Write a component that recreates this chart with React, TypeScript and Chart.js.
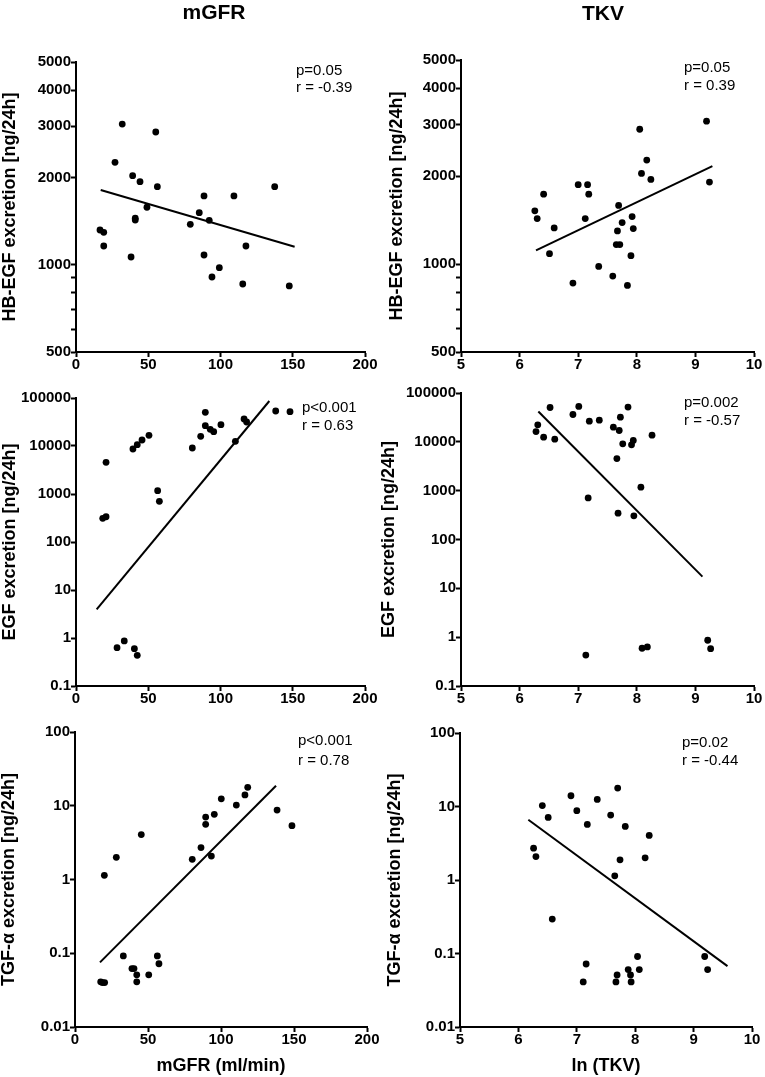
import React, { useEffect, useRef } from "react";
import { Chart, registerables } from "chart.js";

Chart.register(...registerables);

const FONT = '"Liberation Sans", Arial, Helvetica, sans-serif';

// ---------- Tick values ----------
const hbegfTicks = [500, 600, 700, 800, 900, 1000, 2000, 3000, 4000, 5000];
const hbegfLabels = [500, 1000, 2000, 3000, 4000, 5000];
const egfTicks = [0.1, 1, 10, 100, 1000, 10000, 100000];
const tgfTicks = [0.01, 0.1, 1, 10, 100];
const mgfrTicks = [0, 50, 100, 150, 200];
const tkvTicks = [5, 6, 7, 8, 9, 10];

// ---------- Panel 1: HB-EGF vs mGFR ----------
const hbegfMgfrX = [16.6, 19.2, 19.2, 32.0, 27.0, 39.2, 44.3, 55.2, 56.3, 49.1, 41.0, 41.0, 38.1, 79.1, 85.3, 88.6, 92.2, 88.6, 99.2, 94.1, 109.3, 117.6, 115.4, 137.5, 147.6];
const hbegfMgfrY = [1317, 1293, 1160, 3055, 2255, 2028, 1933, 2868, 1858, 1578, 1446, 1426, 1063, 1378, 1512, 1726, 1422, 1080, 977, 907, 1726, 1160, 858, 1858, 845];
const hbegfMgfrLineX = [17.1, 151.3];
const hbegfMgfrLineY = [1810, 1153];

// ---------- Panel 2: HB-EGF vs ln(TKV) ----------
const hbegfTkvX = [6.26, 6.30, 6.41, 6.59, 6.51, 6.91, 7.00, 7.16, 7.18, 7.12, 7.35, 7.59, 7.84, 7.69, 7.75, 7.67, 7.65, 7.71, 7.90, 7.92, 7.94, 8.05, 8.08, 8.17, 8.24, 9.19, 9.24];
const hbegfTkvY = [1522, 1432, 1736, 1330, 1086, 861, 1870, 1870, 1736, 1432, 982, 910, 845, 1588, 1387, 1299, 1166, 1166, 1069, 1455, 1323, 2896, 2045, 2272, 1950, 3087, 1909];
const hbegfTkvLineX = [6.28, 9.29];
const hbegfTkvLineY = [1115, 2167];

// ---------- Panel 3: EGF vs mGFR ----------
const egfMgfrX = [18.5, 20.8, 20.8, 28.4, 33.4, 40.4, 42.4, 39.4, 42.4, 45.7, 50.5, 56.5, 57.7, 80.5, 86.3, 89.5, 89.5, 92.9, 95.3, 100.3, 110.3, 116.3, 118.1, 138.2, 148.1];
const egfMgfrY = [312, 336, 4570, 0.63, 0.87, 0.60, 0.435, 8660, 10640, 13340, 16680, 1172, 703, 9090, 15920, 50200, 26550, 22230, 19900, 27800, 12500, 36500, 31620, 53600, 51900];
const egfMgfrLineX = [14.3, 133.8];
const egfMgfrLineY = [3.95, 86600];

// ---------- Panel 4: EGF vs ln(TKV) ----------
const egfTkvX = [6.28, 6.31, 6.41, 6.52, 6.60, 6.91, 7.01, 7.19, 7.36, 7.17, 7.13, 7.60, 7.70, 7.72, 7.85, 7.76, 7.91, 7.94, 7.66, 7.68, 7.95, 8.07, 8.26, 8.09, 8.18, 9.21, 9.26];
const egfTkvY = [16250, 22300, 12480, 50500, 11350, 36300, 53000, 26500, 27800, 711, 0.43, 19950, 17060, 32060, 51400, 9100, 8690, 10650, 4550, 346, 305, 1178, 13700, 0.593, 0.63, 0.864, 0.582];
const egfTkvLineX = [6.32, 9.12];
const egfTkvLineY = [41800, 17.4];

// ---------- Panel 5: TGF-alpha vs mGFR ----------
const tgfMgfrX = [17.6, 18.8, 20.3, 20.1, 28.3, 33.1, 39.0, 40.4, 42.3, 42.3, 45.4, 50.5, 56.4, 57.5, 80.3, 86.3, 89.5, 89.5, 93.4, 95.4, 100.2, 110.5, 116.4, 118.3, 138.4, 148.6];
const tgfMgfrY = [0.041, 0.04, 0.04, 1.14, 2.0, 0.092, 0.062, 0.062, 0.051, 0.041, 4.06, 0.051, 0.092, 0.072, 1.88, 2.71, 7.03, 5.6, 2.08, 7.66, 12.4, 10.2, 14.0, 17.8, 8.75, 5.37];
const tgfMgfrLineX = [17.1, 137.7];
const tgfMgfrLineY = [0.0753, 18.7];

// ---------- Panel 6: TGF-alpha vs ln(TKV) ----------
const tgfTkvX = [6.26, 6.30, 6.41, 6.51, 6.58, 6.90, 7.00, 7.18, 7.11, 7.16, 7.35, 7.58, 7.70, 7.65, 7.74, 7.83, 7.69, 7.67, 7.88, 7.92, 7.93, 8.04, 8.07, 8.17, 8.24, 9.19, 9.24];
const tgfTkvY = [2.71, 2.08, 10.3, 7.1, 0.294, 14.0, 8.77, 5.7, 0.041, 0.072, 12.5, 7.64, 17.8, 1.14, 1.88, 5.36, 0.051, 0.041, 0.0605, 0.051, 0.041, 0.091, 0.0605, 2.0, 4.04, 0.091, 0.0605];
const tgfTkvLineX = [6.17, 9.58];
const tgfTkvLineY = [6.6, 0.0673];

// ---------- Text ----------
const columnTitles = ["mGFR", "TKV"];
const yTitles = ["HB-EGF excretion [ng/24h]", "EGF excretion [ng/24h]", "TGF-\u03b1 excretion [ng/24h]"];
const xTitles = ["mGFR (ml/min)", "ln (TKV)"];
const pLabels = ["p=0.05", "p=0.05", "p<0.001", "p=0.002", "p<0.001", "p=0.02"];
const rLabels = ["r = -0.39", "r = 0.39", "r = 0.63", "r = -0.57", "r = 0.78", "r = -0.44"];

type TextItem = { text: string; x: number; y: number; font: string; align: CanvasTextAlign };

type PanelProps = {
  box: { left: number; top: number; w: number; h: number };
  area: { left: number; right: number; top: number; bottom: number };
  xs: number[];
  ys: number[];
  lineX: number[];
  lineY: number[];
  xMin: number;
  xMax: number;
  xTicks: number[];
  yMin: number;
  yMax: number;
  yTicks: number[];
  yLabels: number[];
  yTitle: string;
  yTitlePad: number;
  xTitle?: string;
  texts: TextItem[];
};

function Panel(p: PanelProps) {
  const ref = useRef<HTMLCanvasElement | null>(null);
  useEffect(() => {
    if (!ref.current) return;
    const { box, area } = p;
    const textPlugin = {
      id: "panelTexts",
      afterDraw(chart: any) {
        const ctx = chart.ctx as CanvasRenderingContext2D;
        ctx.save();
        ctx.fillStyle = "#000";
        ctx.textBaseline = "alphabetic";
        for (const t of p.texts) {
          ctx.font = t.font;
          ctx.textAlign = t.align;
          ctx.fillText(t.text, t.x - box.left, t.y - box.top);
        }
        ctx.restore();
      },
    };
    const chart = new Chart(ref.current, {
      type: "scatter",
      data: {
        datasets: [
          {
            type: "scatter",
            data: p.xs.map((x, i) => ({ x, y: p.ys[i] })),
            pointRadius: 3.4,
            pointHoverRadius: 3.4,
            backgroundColor: "#000",
            borderColor: "#000",
            borderWidth: 0,
            order: 1,
          } as any,
          {
            type: "line",
            data: p.lineX.map((x, i) => ({ x, y: p.lineY[i] })),
            borderColor: "#000",
            borderWidth: 2,
            pointRadius: 0,
            showLine: true,
            fill: false,
            tension: 0,
            order: 2,
          } as any,
        ],
      },
      options: {
        responsive: false,
        animation: false,
        events: [],
        layout: {
          padding: {
            left: 0,
            bottom: 0,
            top: area.top - box.top,
            right: box.left + box.w - area.right,
          },
        },
        plugins: { legend: { display: false }, tooltip: { enabled: false }, title: { display: false } },
        scales: {
          x: {
            type: "linear",
            min: p.xMin,
            max: p.xMax,
            afterBuildTicks: (s: any) => {
              s.ticks = p.xTicks.map((v) => ({ value: v }));
            },
            afterFit: (s: any) => {
              s.height = box.top + box.h - area.bottom;
              s.paddingLeft = 0;
              s.paddingRight = 0;
              s.paddingTop = 0;
              s.paddingBottom = 0;
            },
            border: { display: true, color: "#000", width: 2 },
            grid: { display: true, drawOnChartArea: false, drawTicks: true, tickLength: 5, tickColor: "#000", tickWidth: 2 },
            ticks: {
              autoSkip: false,
              maxRotation: 0,
              padding: -1,
              color: "#000",
              font: { family: FONT, size: 15, weight: "bold" },
              callback: (v: any) => String(v),
            },
            title: p.xTitle
              ? {
                  display: true,
                  text: p.xTitle,
                  color: "#000",
                  font: { family: FONT, size: 18, weight: "bold", lineHeight: 1 },
                  padding: { top: 0, bottom: 2 },
                }
              : { display: false },
          } as any,
          y: {
            type: "logarithmic",
            min: p.yMin,
            max: p.yMax,
            afterBuildTicks: (s: any) => {
              s.ticks = p.yTicks.map((v) => ({ value: v }));
            },
            afterFit: (s: any) => {
              s.width = area.left - box.left;
              s.paddingLeft = 0;
              s.paddingRight = 0;
              s.paddingTop = 0;
              s.paddingBottom = 0;
            },
            border: { display: true, color: "#000", width: 2 },
            grid: { display: true, drawOnChartArea: false, drawTicks: true, tickLength: 5, tickColor: "#000", tickWidth: 2 },
            ticks: {
              autoSkip: false,
              padding: 0,
              color: "#000",
              font: { family: FONT, size: 15, weight: "bold" },
              callback: (v: any) => (p.yLabels.includes(Number(v)) ? String(v) : ""),
            },
            title: {
              display: true,
              text: p.yTitle,
              color: "#000",
              font: { family: FONT, size: 18, weight: "bold", lineHeight: 1 },
              padding: { top: p.yTitlePad, bottom: 0 },
            },
          } as any,
        },
      },
      plugins: [textPlugin],
    });
    return () => chart.destroy();
  }, []);
  return (
    <canvas
      ref={ref}
      width={p.box.w}
      height={p.box.h}
      style={{ position: "absolute", left: p.box.left, top: p.box.top, width: p.box.w, height: p.box.h, display: "block" }}
    />
  );
}

const annFont = `normal 15px ${FONT}`;
const headFont = `bold 21px ${FONT}`;

function ann(i: number, x: number, yP: number, yR: number): TextItem[] {
  return [
    { text: pLabels[i], x, y: yP, font: annFont, align: "left" },
    { text: rLabels[i], x, y: yR, font: annFont, align: "left" },
  ];
}

export default function App() {
  return (
    <div style={{ position: "absolute", left: 0, top: 0, width: 765, height: 1077, background: "#fff", overflow: "hidden" }}>
      <Panel
        box={{ left: 0, top: 0, w: 380, h: 380 }}
        area={{ left: 76, right: 365, top: 62, bottom: 352 }}
        xs={hbegfMgfrX}
        ys={hbegfMgfrY}
        lineX={hbegfMgfrLineX}
        lineY={hbegfMgfrLineY}
        xMin={0}
        xMax={200}
        xTicks={mgfrTicks}
        yMin={500}
        yMax={5000}
        yTicks={hbegfTicks}
        yLabels={hbegfLabels}
        yTitle={yTitles[0]}
        yTitlePad={1}
        texts={[{ text: columnTitles[0], x: 214, y: 19, font: headFont, align: "center" }, ...ann(0, 296, 75, 92)]}
      />
      <Panel
        box={{ left: 380, top: 0, w: 385, h: 380 }}
        area={{ left: 461, right: 754, top: 60, bottom: 352 }}
        xs={hbegfTkvX}
        ys={hbegfTkvY}
        lineX={hbegfTkvLineX}
        lineY={hbegfTkvLineY}
        xMin={5}
        xMax={10}
        xTicks={tkvTicks}
        yMin={500}
        yMax={5000}
        yTicks={hbegfTicks}
        yLabels={hbegfLabels}
        yTitle={yTitles[0]}
        yTitlePad={8}
        texts={[{ text: columnTitles[1], x: 603, y: 20, font: headFont, align: "center" }, ...ann(1, 684, 72, 90)]}
      />
      <Panel
        box={{ left: 0, top: 380, w: 380, h: 335 }}
        area={{ left: 76, right: 365, top: 398, bottom: 686 }}
        xs={egfMgfrX}
        ys={egfMgfrY}
        lineX={egfMgfrLineX}
        lineY={egfMgfrLineY}
        xMin={0}
        xMax={200}
        xTicks={mgfrTicks}
        yMin={0.1}
        yMax={100000}
        yTicks={egfTicks}
        yLabels={egfTicks}
        yTitle={yTitles[1]}
        yTitlePad={1}
        texts={ann(2, 302, 412, 430)}
      />
      <Panel
        box={{ left: 380, top: 380, w: 385, h: 335 }}
        area={{ left: 461, right: 754, top: 393, bottom: 686 }}
        xs={egfTkvX}
        ys={egfTkvY}
        lineX={egfTkvLineX}
        lineY={egfTkvLineY}
        xMin={5}
        xMax={10}
        xTicks={tkvTicks}
        yMin={0.1}
        yMax={100000}
        yTicks={egfTicks}
        yLabels={egfTicks}
        yTitle={yTitles[1]}
        yTitlePad={0}
        texts={ann(3, 684, 407, 425)}
      />
      <Panel
        box={{ left: 0, top: 715, w: 380, h: 362 }}
        area={{ left: 75, right: 367, top: 732, bottom: 1027 }}
        xs={tgfMgfrX}
        ys={tgfMgfrY}
        lineX={tgfMgfrLineX}
        lineY={tgfMgfrLineY}
        xMin={0}
        xMax={200}
        xTicks={mgfrTicks}
        yMin={0.01}
        yMax={100}
        yTicks={tgfTicks}
        yLabels={tgfTicks}
        yTitle={yTitles[2]}
        yTitlePad={0}
        xTitle={xTitles[0]}
        texts={ann(4, 298, 745, 765)}
      />
      <Panel
        box={{ left: 380, top: 715, w: 385, h: 362 }}
        area={{ left: 460, right: 752, top: 733, bottom: 1027 }}
        xs={tgfTkvX}
        ys={tgfTkvY}
        lineX={tgfTkvLineX}
        lineY={tgfTkvLineY}
        xMin={5}
        xMax={10}
        xTicks={tkvTicks}
        yMin={0.01}
        yMax={100}
        yTicks={tgfTicks}
        yLabels={tgfTicks}
        yTitle={yTitles[2]}
        yTitlePad={6}
        xTitle={xTitles[1]}
        texts={ann(5, 682, 747, 765)}
      />
    </div>
  );
}
